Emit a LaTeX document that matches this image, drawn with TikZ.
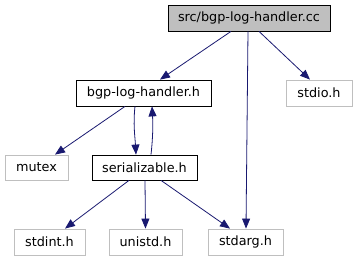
\documentclass[tikz,border=0pt]{standalone}
\usepackage{fontspec}
\setmainfont{DejaVu Sans}
\usepackage{tikz}
\usetikzlibrary{arrows.meta}

\definecolor{edgeblue}{HTML}{191970}
\definecolor{filegray}{HTML}{BFBFBF}

\begin{document}
\begin{tikzpicture}[x=1pt, y=-1pt,
    file/.style={draw=black, thick, minimum height=26pt, inner sep=0pt, font=\fontsize{12.8}{14}\selectfont},
    sysfile/.style={file, draw=filegray},
    dep/.style={draw=edgeblue, thick, -{Triangle[length=10pt,width=8pt]}}]
    \useasboundingbox (0,0) rectangle (357,261);

    % Files
    \node[file, fill=filegray, minimum width=162pt] (src) at (249,18) {src/bgp-log-handler.cc};
    \node[file, minimum width=135pt] (blh) at (143.5,93) {bgp-log-handler.h};
    \node[sysfile, minimum width=66pt] (stdio) at (319,93) {stdio.h};
    \node[sysfile, minimum width=63pt, minimum height=25pt] (mutex) at (36.5,167.5) {mutex};
    \node[file, minimum width=105pt, minimum height=25pt] (ser) at (144.5,167.5) {serializable.h};
    \node[sysfile, minimum width=71pt] (stdint) at (49.5,242) {stdint.h};
    \node[sysfile, minimum width=73pt] (unistd) at (145.5,242) {unistd.h};
    \node[sysfile, minimum width=75pt] (stdarg) at (245.5,242) {stdarg.h};

    % Includes
    \draw[dep] ([xshift=-18pt]src.south) -- ([xshift=16.5pt]blh.north);
    \draw[dep] ([xshift=-1pt]src.south) -- ([xshift=0.5pt]stdarg.north);
    \draw[dep] ([xshift=10pt]src.south) -- ([xshift=-9pt]stdio.north);
    \draw[dep] ([xshift=-18.5pt]blh.south) -- ([xshift=18.5pt]mutex.north);
    \draw[dep] ([xshift=-8.5pt]blh.south) .. controls +(-2,18) and +(-1,-18) .. ([xshift=-8.5pt]ser.north);
    \draw[dep] ([xshift=6.5pt]ser.north) .. controls +(2,-18) and +(1,18) .. ([xshift=8.5pt]blh.south);
    \draw[dep] ([xshift=-15.5pt]ser.south) -- ([xshift=15.5pt]stdint.north);
    \draw[dep] ([xshift=0.5pt]ser.south) -- (unistd.north);
    \draw[dep] ([xshift=16.5pt]ser.south) -- ([xshift=-15.5pt]stdarg.north);
\end{tikzpicture}
\end{document}
